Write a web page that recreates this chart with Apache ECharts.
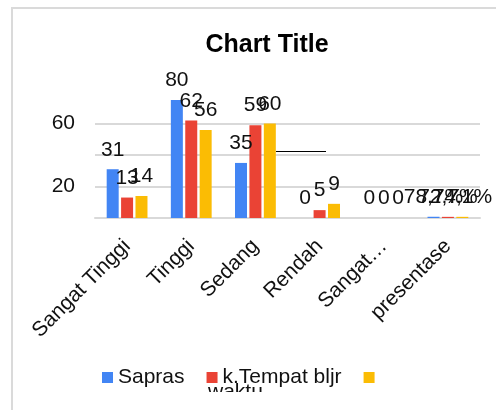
<!DOCTYPE html>
<html lang="id">
<head>
    <meta charset="utf-8">
    <title>Chart Title</title>
    <script src="https://cdn.jsdelivr.net/npm/echarts@6/dist/echarts.min.js"></script>
    <style>
        html, body { margin: 0; padding: 0; background: #fff; overflow: hidden; }
        #main { position: absolute; left: 0; top: 0; width: 496px; height: 410px; }
        /* potongan bingkai chart (kiri + atas) */
        #frame { position: absolute; left: 11px; top: 7px; width: 600px; height: 600px;
                 border-left: 2px solid #dadada; border-top: 2px solid #dadada; pointer-events: none; }
    </style>
</head>
<body>
<div id="main"></div>
<div id="frame"></div>
<script type="text/javascript">
    // data dari gambar
    var kategori = ['Sangat Tinggi', 'Tinggi', 'Sedang', 'Rendah', 'Sangat Rendah', 'presentase'];
    var namaSeri = ['Sapras', 'k.Tempat bljr', 'waktu'];
    var sapras = [31, 80, 35, 0, 0, 0.787];
    var tempatBljr = [13, 62, 59, 5, 0, 0.727];
    var waktu = [14, 56, 60, 9, 0, 0.741];
    var warna = ['#4285f4', '#ea4335', '#fbbc04'];

    var font = '"Liberation Sans", Arial, sans-serif';
    var teks = '#111';

    function labelNilai(p) {
        if (p.dataIndex === 5) {
            return (p.value * 100).toFixed(1).replace('.', ',') + '%';
        }
        return p.value;
    }

    function seri(nama, data, i) {
        return {
            name: nama,
            type: 'bar',
            data: data,
            barWidth: 12,
            barGap: '20%',
            clip: true,
            itemStyle: {color: warna[i]},
            label: {
                show: true,
                position: 'top',
                distance: 9,
                fontSize: 21,
                fontFamily: font,
                color: teks,
                formatter: labelNilai
            }
        };
    }

    var myChart = echarts.init(document.getElementById('main'));
    var option = {
        animation: false,
        color: warna,
        title: {
            text: 'Chart Title',
            left: 262,
            top: 28,
            textAlign: 'center',
            textStyle: {fontSize: 25, fontWeight: 'bold', fontFamily: font, color: '#000'}
        },
        grid: {left: 95, right: 16, top: 100, bottom: 192, containLabel: false},
        legend: {
            left: 97,
            top: 362,
            itemWidth: 11,
            itemHeight: 11,
            itemGap: 22,
            icon: 'rect',
            data: namaSeri,
            formatter: function (n) { return n === 'waktu' ? '' : n; },
            textStyle: {fontSize: 21, fontFamily: font, color: teks}
        },
        xAxis: {
            type: 'category',
            data: kategori,
            axisTick: {show: false},
            axisLine: {lineStyle: {color: '#d9d9d9', width: 2}},
            axisLabel: {
                interval: 0,
                rotate: 45,
                margin: 25,
                fontSize: 21,
                fontFamily: font,
                color: teks,
                formatter: function (v) { return v === 'Sangat Rendah' ? 'Sangat…' : v; }
            }
        },
        yAxis: {
            type: 'value',
            min: 0,
            max: 75,
            interval: 20,
            axisLine: {show: false},
            axisTick: {show: false},
            splitLine: {showMaxLine: false, lineStyle: {color: '#d9d9d9', width: 2}},
            axisLabel: {
                margin: 20,
                fontSize: 21,
                fontFamily: font,
                color: teks,
                formatter: function (v) { return (v === 20 || v === 60) ? v : ''; }
            }
        },
        graphic: [
            // garis hitam nyasar di gambar asli
            {type: 'line', shape: {x1: 276, y1: 151.5, x2: 326, y2: 151.5}, style: {stroke: '#000', lineWidth: 1}},
            // baris kedua legenda, terpotong
            {type: 'text', left: 208, top: 382, z: 10,
                style: {text: 'waktu', fontSize: 21, fontFamily: font, fill: teks}},
            {type: 'rect', shape: {x: 200, y: 392, width: 150, height: 18}, z: 11,
                style: {fill: '#fff'}}
        ],
        series: [
            seri(namaSeri[0], sapras, 0),
            seri(namaSeri[1], tempatBljr, 1),
            seri(namaSeri[2], waktu, 2)
        ]
    };

    myChart.setOption(option);
</script>
</body>
</html>
